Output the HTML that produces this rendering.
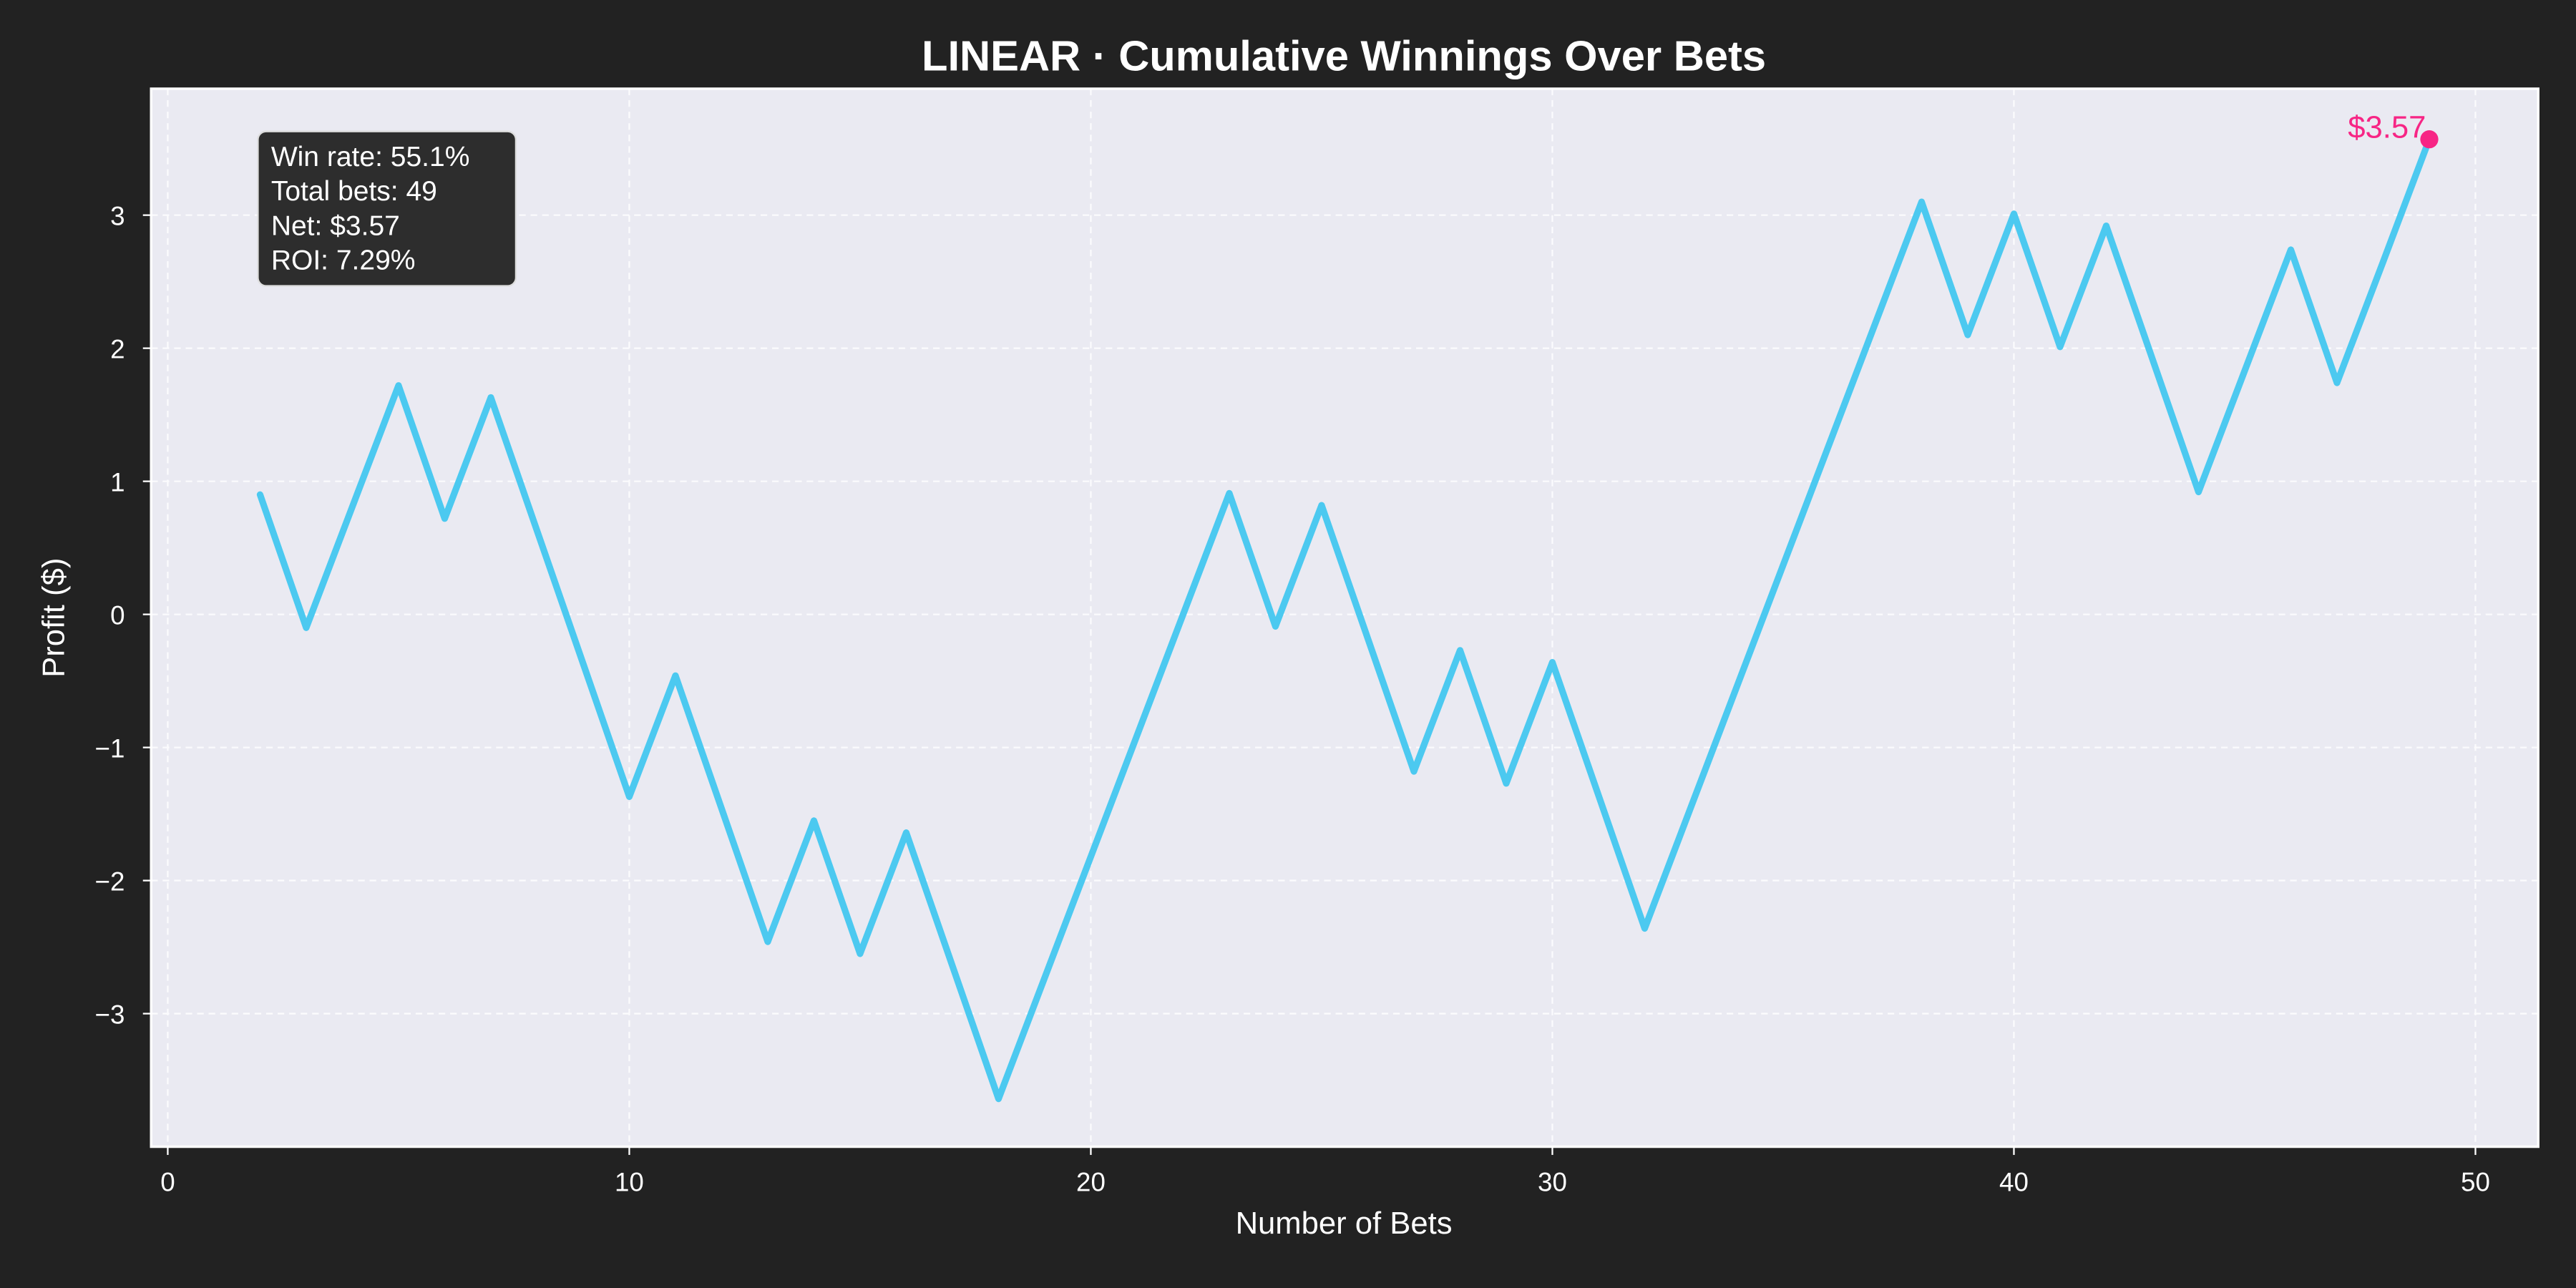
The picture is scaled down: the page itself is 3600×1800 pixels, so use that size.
<!DOCTYPE html>
<html><head><meta charset="utf-8"><style>
html,body{margin:0;padding:0;background:#222222;}
svg{display:block;font-family:"Liberation Sans",Arial,sans-serif;}
</style></head><body>
<svg id="chart" width="3600" height="1800" viewBox="0 0 1568 784" xmlns="http://www.w3.org/2000/svg">
<rect x="0" y="0" width="1568" height="784" fill="#222222"/>
<rect x="92" y="54" width="1453" height="644" fill="#eaeaf2"/>
<g id="grid" opacity="0.85"></g>
<g id="axes"></g>
<g id="series"></g>
<text x="818" y="43" fill="#ffffff" font-size="26" font-weight="bold" text-anchor="middle">LINEAR · Cumulative Winnings Over Bets</text>
<text x="818" y="751" fill="#ffffff" font-size="19" text-anchor="middle">Number of Bets</text>
<text transform="translate(39,376) rotate(-90)" fill="#ffffff" font-size="19" text-anchor="middle">Profit ($)</text>
<g>
<rect x="157" y="80" width="157" height="94" rx="5" fill="#2d2d2d" stroke="#dddddd" stroke-width="1"/>
<text x="165" y="101" fill="#ffffff" font-size="17">Win rate: 55.1%</text>
<text x="165" y="122" fill="#ffffff" font-size="17">Total bets: 49</text>
<text x="165" y="143" fill="#ffffff" font-size="17">Net: $3.57</text>
<text x="165" y="164" fill="#ffffff" font-size="17">ROI: 7.29%</text>
</g>
</svg>
<script>
const bets = [2,3,4,5,6,7,8,9,10,11,12,13,14,15,16,17,18,19,20,21,22,23,24,25,26,27,28,29,30,31,32,33,34,35,36,37,38,39,40,41,42,43,44,45,46,47,48,49];
const profit = [0.9,-0.1,0.81,1.72,0.72,1.63,0.63,-0.37,-1.37,-0.46,-1.46,-2.46,-1.55,-2.55,-1.64,-2.64,-3.64,-2.73,-1.82,-0.91,0.0,0.91,-0.09,0.82,-0.18,-1.18,-0.27,-1.27,-0.36,-1.36,-2.36,-1.45,-0.54,0.37,1.28,2.19,3.1,2.1,3.01,2.01,2.92,1.92,0.92,1.83,2.74,1.74,2.65,3.57];
const xTicks = [0,10,20,30,40,50];
const yTicks = [-3,-2,-1,0,1,2,3];
const yTickLabels = ["\u22123","\u22122","\u22121","0","1","2","3"];

const NS="http://www.w3.org/2000/svg";
const L=92,R=1545,T=54,B=698;
const xMin=-0.36,xMax=51.36,yMin=-4.0,yMax=3.95;
const sx=v=>L+(v-xMin)/(xMax-xMin)*(R-L);
const sy=v=>B-(v-yMin)/(yMax-yMin)*(B-T);
function mk(tag,attrs,parent){const e=document.createElementNS(NS,tag);for(const k in attrs)e.setAttribute(k,attrs[k]);parent.appendChild(e);return e;}
const grid=document.getElementById('grid'),axes=document.getElementById('axes'),series=document.getElementById('series');
xTicks.forEach(t=>{
  const g=mk('line',{x1:sx(t),x2:sx(t),y1:T,y2:B,stroke:'#ffffff','stroke-width':1,'stroke-dasharray':'4,3'},grid);
  
  
  const tk=mk('line',{x1:sx(t),x2:sx(t),y1:B,y2:B+5,stroke:'#ffffff','stroke-width':1},axes);
  
  
  const tx=mk('text',{x:sx(t),y:B+27,fill:'#ffffff','font-size':16,'text-anchor':'middle'},axes);
  tx.textContent=t;
  
  
});
yTicks.forEach((t,i)=>{
  const g=mk('line',{x1:L,x2:R,y1:sy(t),y2:sy(t),stroke:'#ffffff','stroke-width':1,'stroke-dasharray':'4,3'},grid);
  
  
  const tk=mk('line',{x1:L-5,x2:L,y1:sy(t),y2:sy(t),stroke:'#ffffff','stroke-width':1},axes);
  
  
  const tx=mk('text',{x:L-16,y:sy(t)+6,fill:'#ffffff','font-size':16,'text-anchor':'end'},axes);
  tx.textContent=yTickLabels[i];
  
  
});
const sp=mk('rect',{x:L,y:T,width:R-L,height:B-T,fill:'none',stroke:'#ffffff','stroke-width':1.5},axes);


const pts=bets.map((b,i)=>sx(b).toFixed(2)+','+sy(profit[i]).toFixed(2)).join(' ');
const line=mk('polyline',{points:pts,fill:'none',stroke:'#4cc9f0','stroke-width':4,'stroke-linejoin':'round','stroke-linecap':'round'},series);


const n=bets.length-1;
const dot=mk('circle',{cx:sx(bets[n]),cy:sy(profit[n]),r:5.5,fill:'#f72585'},series);


const lab=mk('text',{x:sx(bets[n])-2,y:sy(profit[n])-1,fill:'#f72585','font-size':19,'text-anchor':'end'},series);
lab.textContent='$'+profit[n].toFixed(2);


</script>
</body></html>
